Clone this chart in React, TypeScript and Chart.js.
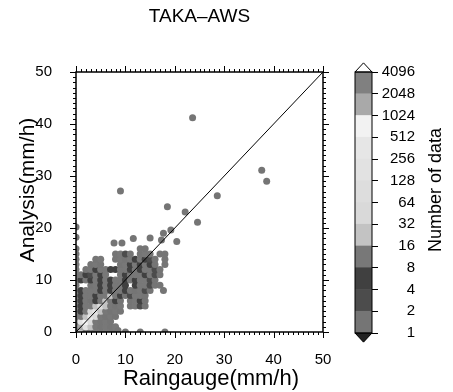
import React, { useEffect, useRef } from "react";
import { Chart, registerables } from "chart.js";

Chart.register(...registerables);

const FAMILY = '"Liberation Sans", Arial, Helvetica, sans-serif';

const titleText = "TAKA\u2013AWS";
const xTitle = "Raingauge(mm/h)";
const yTitle = "Analysis(mm/h)";
const cbTitle = "Number of data";

const axisMin = 0;
const axisMax = 50;
const majorStep = 10;

const cbTickLabels = ["1", "2", "4", "8", "16", "32", "64", "128", "256", "512", "1024", "2048", "4096"];
// colour of each count bin: 1-2, 2-4, 4-8, ... 2048-4096
const cbColors = [
  "#757575", "#4c4c4c", "#404040", "#787878", "#c3c3c3", "#d9d9d9",
  "#dddddd", "#e2e2e2", "#e6e6e6", "#f2f2f2", "#a9a9a9", "#808080",
];
const overColor = "#ffffff";
const underColor = "#222222";

// dense part: row index = Analysis bin (0..16), column = Raingauge bin (0..18)
// '.' = no data, '1'..'9','a','b','c' = count bin 0..11
const gridRows = [
  "c54441411.1..1....1", // y0
  "4b8541414..........", // y1
  "48a74141...........", // y2
  "445964141..........", // y3
  "4346854141.........", // y4
  "4344575414.1421....", // y5
  "4341345431.1431....", // y6
  "434434454312441....", // y7
  "4344434344341421...", // y8
  "4..14343443.34421..", // y9
  "43434343443434421..", // y10
  "4132434..434443421.", // y11
  "4.1434433443434421.", // y12
  "4..141...14343431.1", // y13
  "1...14..141434321.1", // y14
  "1.......1421.141.11", // y15
  "1............11....", // y16
];

// isolated points (count bin 0)
const sparseX = [0, 0, 11.6, 15, 17.3, 17.7, 19.2, 20.4, 7.7, 9.3, 17, 17.7, 8.5, 9, 18.5, 22.1, 24.6, 28.6, 37.6, 38.6, 23.6];
const sparseY = [20.2, 18.2, 18, 18.1, 17.7, 19, 19.6, 17.4, 17.1, 17.1, 9, 8, 0.3, 27.1, 24.1, 23.1, 21.1, 26.2, 31.1, 29, 41.2];

const oneToOne = [axisMin, axisMax];

function buildPoints() {
  const pts: { x: number; y: number; bin: number }[] = [];
  gridRows.forEach((row, y) => {
    for (let x = 0; x < row.length; x++) {
      const c = row[x];
      if (c === ".") continue;
      pts.push({ x, y, bin: parseInt(c, 16) - 1 });
    }
  });
  sparseX.forEach((x, i) => pts.push({ x, y: sparseY[i], bin: 0 }));
  return pts;
}

export default function App() {
  const mainRef = useRef<HTMLCanvasElement>(null);
  const cbRef = useRef<HTMLCanvasElement>(null);

  useEffect(() => {
    Chart.defaults.font.family = FAMILY;
    Chart.defaults.color = "#000";

    const framePlugin = {
      id: "frame",
      afterDraw(chart: any) {
        const { ctx, chartArea, scales } = chart;
        const { left, right, top, bottom } = chartArea;
        const xs = scales.x;
        const ys = scales.y;
        ctx.save();
        ctx.strokeStyle = "#000";
        ctx.lineWidth = 1;
        ctx.beginPath();
        for (let v = axisMin; v <= axisMax; v++) {
          const len = v % majorStep === 0 ? 6 : 3;
          const px = Math.round(xs.getPixelForValue(v)) + 0.5;
          ctx.moveTo(px, bottom);
          ctx.lineTo(px, bottom + len);
          ctx.moveTo(px, top);
          ctx.lineTo(px, top - len);
          const py = Math.round(ys.getPixelForValue(v)) + 0.5;
          ctx.moveTo(left, py);
          ctx.lineTo(left - len, py);
          ctx.moveTo(right, py);
          ctx.lineTo(right + len, py);
        }
        ctx.stroke();
        ctx.lineWidth = 1.5;
        ctx.strokeRect(left, top, right - left, bottom - top);

        ctx.fillStyle = "#000";
        ctx.textAlign = "center";
        ctx.textBaseline = "middle";
        ctx.font = `19px ${FAMILY}`;
        ctx.fillText(titleText, (left + right) / 2, 17);
        ctx.font = `22px ${FAMILY}`;
        ctx.textBaseline = "alphabetic";
        ctx.fillText(xTitle, 211, 385);
        ctx.font = `21px ${FAMILY}`;
        ctx.translate(28, 190);
        ctx.rotate(-Math.PI / 2);
        ctx.textBaseline = "middle";
        ctx.fillText(yTitle, 0, 0);
        ctx.restore();
      },
    };

    const points = buildPoints();

    const main = new Chart(mainRef.current!, {
      type: "scatter",
      data: {
        datasets: [
          {
            type: "line",
            data: oneToOne.map((v) => ({ x: v, y: v })),
            borderColor: "#000",
            borderWidth: 1,
            pointRadius: 0,
            clip: 0,
          } as any,
          {
            type: "scatter",
            data: points,
            pointRadius: 3.5,
            pointBorderWidth: 0,
            borderWidth: 0,
            backgroundColor: (c: any) => cbColors[c.raw ? c.raw.bin : 0],
            clip: 0,
          } as any,
        ],
      },
      options: {
        animation: false,
        responsive: false,
        events: [],
        layout: { padding: { left: 0, top: 72, right: 130, bottom: 0 } },
        plugins: { legend: { display: false }, tooltip: { enabled: false } },
        scales: {
          x: {
            type: "linear",
            min: axisMin,
            max: axisMax,
            ticks: { stepSize: majorStep, padding: 11, maxRotation: 0, font: { size: 15 }, color: "#000" },
            grid: { display: false },
            border: { display: false },
            afterFit: (s: any) => {
              s.height = 60;
            },
          },
          y: {
            type: "linear",
            min: axisMin,
            max: axisMax,
            ticks: { stepSize: majorStep, padding: 16, font: { size: 15 }, color: "#000" },
            grid: { display: false },
            border: { display: false },
            afterFit: (s: any) => {
              s.width = 76;
            },
          },
        },
      } as any,
      plugins: [framePlugin],
    });

    const cbPlugin = {
      id: "cbdeco",
      afterDraw(chart: any) {
        const { ctx, chartArea } = chart;
        const { left, right } = chartArea;
        const ys = chart.scales.y;
        const y0 = ys.getPixelForValue(0);
        const yN = ys.getPixelForValue(cbColors.length);
        const h = ((y0 - yN) / cbColors.length) * 0.42;
        const mid = (left + right) / 2;
        ctx.save();
        ctx.strokeStyle = "#000";
        ctx.lineWidth = 1;
        ctx.beginPath();
        ctx.moveTo(left, yN);
        ctx.lineTo(mid, yN - h);
        ctx.lineTo(right, yN);
        ctx.closePath();
        ctx.fillStyle = overColor;
        ctx.fill();
        ctx.stroke();
        ctx.beginPath();
        ctx.moveTo(left, y0);
        ctx.lineTo(mid, y0 + h);
        ctx.lineTo(right, y0);
        ctx.closePath();
        ctx.fillStyle = underColor;
        ctx.fill();
        ctx.stroke();
        ctx.strokeRect(left, yN, right - left, y0 - yN);

        ctx.fillStyle = "#000";
        ctx.font = `18px ${FAMILY}`;
        ctx.textAlign = "center";
        ctx.textBaseline = "middle";
        ctx.translate(96, 190);
        ctx.rotate(-Math.PI / 2);
        ctx.fillText(cbTitle, 0, 0);
        ctx.restore();
      },
    };

    const cb = new Chart(cbRef.current!, {
      type: "bar",
      data: {
        labels: [""],
        datasets: cbColors.map((c, i) => ({
          data: [[i, i + 1]],
          backgroundColor: c,
          borderWidth: 0,
          barPercentage: 1,
          categoryPercentage: 1,
          grouped: false,
        })) as any,
      },
      options: {
        animation: false,
        responsive: false,
        events: [],
        layout: { padding: { left: 15, top: 72, right: 38, bottom: 59 } },
        plugins: { legend: { display: false }, tooltip: { enabled: false } },
        scales: {
          x: { display: false },
          y: {
            position: "right",
            min: 0,
            max: cbColors.length,
            ticks: {
              stepSize: 1,
              autoSkip: false,
              crossAlign: "far",
              padding: 4,
              font: { size: 15 },
              color: "#000",
              callback: (v: any) => cbTickLabels[v] ?? "",
            },
            grid: { drawOnChartArea: false, drawTicks: true, tickLength: 6, color: "#000" },
            border: { display: false },
            afterFit: (s: any) => {
              s.width = 43;
            },
          },
        },
      } as any,
      plugins: [cbPlugin],
    });

    return () => {
      main.destroy();
      cb.destroy();
    };
  }, []);

  return (
    <div style={{ position: "fixed", left: 0, top: 0, width: 453, height: 392, background: "#fff" }}>
      <canvas ref={mainRef} width={453} height={392} style={{ position: "absolute", left: 0, top: 0, width: 453, height: 392 }} />
      <canvas ref={cbRef} width={113} height={392} style={{ position: "absolute", left: 340, top: 0, width: 113, height: 392 }} />
    </div>
  );
}
